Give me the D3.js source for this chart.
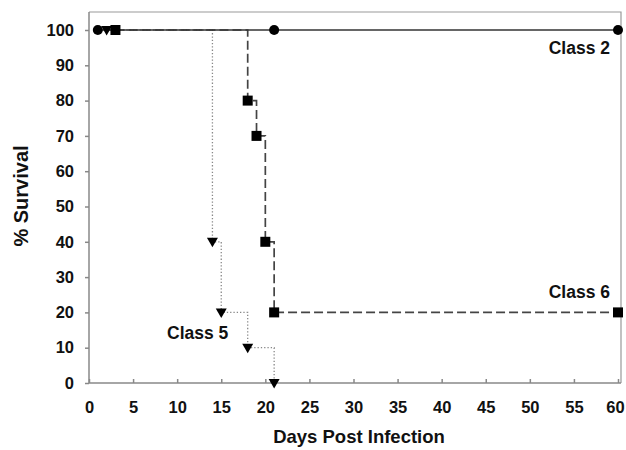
<!DOCTYPE html>
<html>
<head>
<meta charset="utf-8">
<script src="https://cdn.jsdelivr.net/npm/d3@7"></script>
<style>
  body { margin: 0; background: #fff; }
  text { font-family: Arial, "Liberation Sans", sans-serif; font-weight: bold; fill: #111; }
</style>
</head>
<body>
<div id="chart"></div>
<script>
// survival data (day, % survival)
const class2Days = [1, 21, 60];
const class2Surv = [100, 100, 100];
const class5Days = [2, 14, 15, 18, 21];
const class5Surv = [100, 40, 20, 10, 0];
const class6Days = [3, 18, 19, 20, 21, 60];
const class6Surv = [100, 80, 70, 40, 20, 20];

const xTicks = [0, 5, 10, 15, 20, 25, 30, 35, 40, 45, 50, 55, 60];
const yTicks = [0, 10, 20, 30, 40, 50, 60, 70, 80, 90, 100];

const width = 626, height = 450;
const margin = { top: 12, right: 5, bottom: 67, left: 89 };

const svg = d3.select('#chart')
  .append('svg')
  .attr('width', width)
  .attr('height', height);

const x = d3.scaleLinear().domain([0, 60]).range([89, 618]);
const y = d3.scaleLinear().domain([0, 100]).range([383, 30]);

// frame (top and right sides)
svg.append('path')
  .attr('d', `M${margin.left},${margin.top}H${width - margin.right}V${height - margin.bottom}`)
  .attr('fill', 'none')
  .attr('stroke', '#999')
  .attr('stroke-width', 1.2);

// axes
const yAxis = svg.append('g')
  .attr('transform', `translate(${margin.left},0)`)
  .call(d3.axisLeft(y).tickValues(yTicks).tickSize(4).tickPadding(11).tickFormat(d3.format('d')));
yAxis.select('.domain').attr('d', `M0,${margin.top}V383`);

const xAxis = svg.append('g')
  .attr('transform', 'translate(0,383)')
  .call(d3.axisBottom(x).tickValues(xTicks).tickSize(-4).tickPadding(18).tickFormat(d3.format('d')));
xAxis.select('.domain').attr('d', `M${margin.left},0H${width - margin.right}`);
// last label sits right at the edge, pull it in a little
xAxis.selectAll('.tick text').filter(d => d === 60).attr('dx', -3);

svg.selectAll('.domain, .tick line').attr('stroke', '#888').attr('stroke-width', 1.5);
svg.selectAll('.tick text').attr('font-size', 16.5).attr('font-weight', 'bold').attr('fill', '#111')
  .attr('font-family', 'Arial, "Liberation Sans", sans-serif');

// step lines (Kaplan-Meier style)
const toPts = (days, surv) => days.map((d, i) => [d, surv[i]]);
const step = d3.line().x(d => x(d[0])).y(d => y(d[1])).curve(d3.curveStepAfter);

const c2 = toPts(class2Days, class2Surv);
const c5 = toPts(class5Days, class5Surv);
const c6 = toPts(class6Days, class6Surv);

svg.append('path').attr('d', step(c5)).attr('fill', 'none')
  .attr('stroke', '#888').attr('stroke-width', 1.3).attr('stroke-dasharray', '1.3,2');
svg.append('path').attr('d', step(c6)).attr('fill', 'none')
  .attr('stroke', '#444').attr('stroke-width', 1.7).attr('stroke-dasharray', '9,4');
svg.append('path').attr('d', step(c2)).attr('fill', 'none')
  .attr('stroke', '#333').attr('stroke-width', 1.3);

// markers
svg.selectAll('.c2').data(c2).enter().append('circle')
  .attr('cx', d => x(d[0])).attr('cy', d => y(d[1])).attr('r', 5).attr('fill', '#000');
svg.selectAll('.c6').data(c6).enter().append('rect')
  .attr('x', d => x(d[0]) - 5).attr('y', d => y(d[1]) - 5)
  .attr('width', 10).attr('height', 10).attr('fill', '#000');
svg.selectAll('.c5').data(c5).enter().append('path')
  .attr('transform', d => `translate(${x(d[0])},${y(d[1])})`)
  .attr('d', 'M-5.5,-4L5.5,-4L0,5.5Z').attr('fill', '#000');

// series labels
svg.append('text').attr('x', 610).attr('y', 54).attr('text-anchor', 'end').attr('font-size', 17.5).text('Class 2');
svg.append('text').attr('x', 610).attr('y', 298).attr('text-anchor', 'end').attr('font-size', 17.5).text('Class 6');
svg.append('text').attr('x', 167).attr('y', 339).attr('font-size', 17.5).text('Class 5');

// axis titles
svg.append('text')
  .attr('transform', 'translate(28,196) rotate(-90)')
  .attr('text-anchor', 'middle').attr('font-size', 20).text('% Survival');
svg.append('text')
  .attr('x', 359).attr('y', 443)
  .attr('text-anchor', 'middle').attr('font-size', 18.5).text('Days Post Infection');
</script>
</body>
</html>
